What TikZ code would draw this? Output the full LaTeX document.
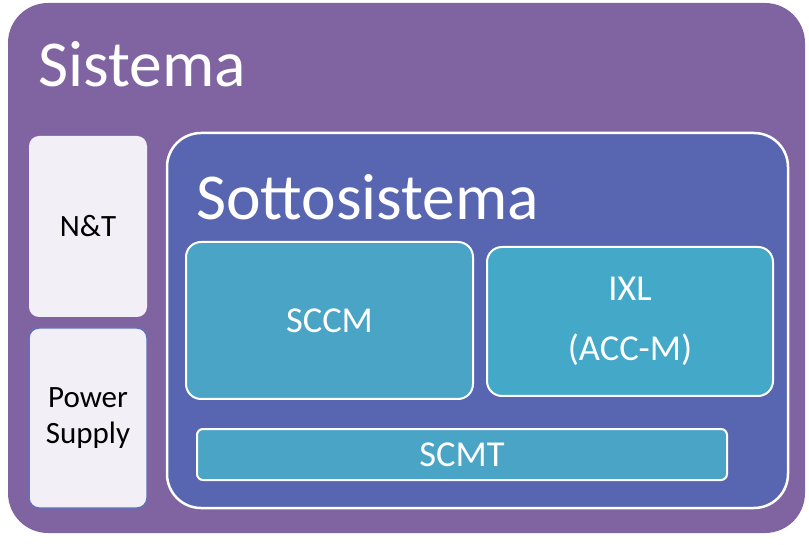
\documentclass[tikz,border=0pt]{standalone}
\usepackage{fontspec}
\setmainfont{Carlito}
\usepackage{xcolor}
\definecolor{sysviola}{HTML}{8064A2}
\definecolor{subblu}{HTML}{5866B1}
\definecolor{modteal}{HTML}{4AA4C5}
\definecolor{ixlteal}{HTML}{44A8C8}
\definecolor{lavanda}{HTML}{F2EFF6}
\definecolor{psbordo}{HTML}{6471B8}

\begin{document}
\begin{tikzpicture}[x=1pt,y=-1pt,
        sys/.style={fill=sysviola,rounded corners=40pt,minimum width=797pt,minimum height=530pt},
        sub/.style={fill=subblu,draw=white,line width=2.5pt,rounded corners=34pt,
          minimum width=621pt,minimum height=375pt},
        mod/.style={fill=modteal,draw=white,line width=2pt,rounded corners=15pt,text=white,
          align=center,font=\fontsize{36.5}{60}\selectfont},
        side/.style={fill=lavanda,rounded corners=10pt,minimum width=118pt,minimum height=180pt,
          align=center,font=\fontsize{31}{36}\selectfont},
        tit/.style={text=white,anchor=base west,inner sep=0pt,font=\fontsize{65.5}{78}\selectfont}]
        \useasboundingbox (0,0) rectangle (809,545);
        \node[sys] (s) at (406.5,268) {};
        \node[tit] (st) at (38,87) {Sistema};
        \node[side,minimum height=181pt] (nt) at (88,226.5) {N\&T};
        \node[side,draw=psbordo,line width=1.5pt] (ps) at (88,418) {Power\\Supply};
        \node[sub] (ss) at (477.5,320.5) {};
        \node[tit] (sst) at (196,220) {Sottosistema};
        \node[mod,minimum width=287pt,minimum height=157pt] (sccm) at (329.5,320.5) {SCCM};
        \node[mod,fill=ixlteal,minimum width=286pt,minimum height=149pt] (ixl) at (630,321.5) {IXL\\(ACC-M)};
        \node[mod,rounded corners=6pt,minimum width=530pt,minimum height=51pt,inner sep=0pt] (scmt) at (462,454.5) {SCMT};
      \end{tikzpicture}
\end{document}
